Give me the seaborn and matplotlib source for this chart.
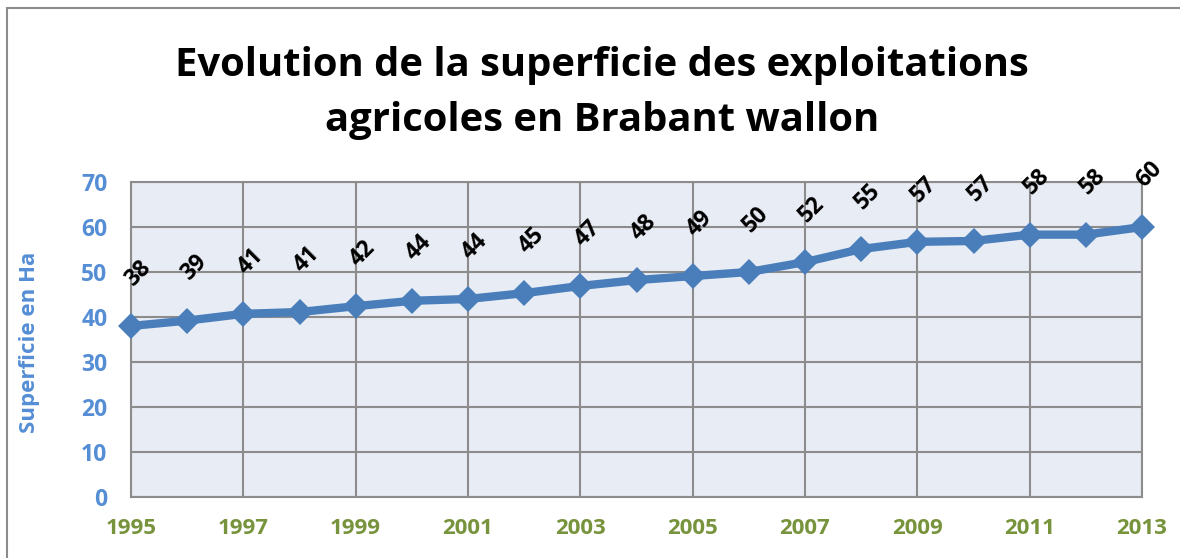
import pandas as pd
import seaborn as sns
import matplotlib.pyplot as plt
from matplotlib.patches import Rectangle

# Data
years = [1995, 1996, 1997, 1998, 1999, 2000, 2001, 2002, 2003, 2004,
         2005, 2006, 2007, 2008, 2009, 2010, 2011, 2012, 2013]
superficie = [38.0, 39.2, 40.7, 41.1, 42.4, 43.6, 44.0, 45.3, 46.9, 48.2,
              49.1, 50.0, 52.2, 55.1, 56.7, 56.9, 58.3, 58.3, 60.0]
labels = ["38", "39", "41", "41", "42", "44", "44", "45", "47", "48",
          "49", "50", "52", "55", "57", "57", "58", "58", "60"]
yticks = [0, 10, 20, 30, 40, 50, 60, 70]
xticks = [1995, 1997, 1999, 2001, 2003, 2005, 2007, 2009, 2011, 2013]

df = pd.DataFrame({"annee": years, "superficie": superficie})

sns.set_style("white")
plt.rcParams["font.family"] = ["Open Sans", "DejaVu Sans"]

line_color = "#4A7EBB"
blue_txt = "#558ED5"
green_txt = "#77933C"
grid_color = "#8C8C8C"

fig = plt.figure(figsize=(11.8, 5.58), dpi=100)
ax = fig.add_axes([131 / 1180, 1 - 497 / 558, (1142 - 131) / 1180, (497 - 182) / 558])
ax.set_facecolor("#E8ECF4")

sns.lineplot(data=df, x="annee", y="superficie", color=line_color,
             linewidth=6, marker="D", markersize=13, markeredgewidth=0,
             ax=ax, zorder=5, clip_on=False)

# data labels
for x, y, lab in zip(years, superficie, labels):
    ax.annotate(lab, (x, y), xytext=(5, 38), textcoords="offset points",
                rotation=45, ha="center", va="center", fontsize=16.5,
                fontweight="bold", color="black", zorder=6)

ax.set_xlim(1995, 2013)
ax.set_ylim(0, 70)
ax.set_xticks(xticks)
ax.set_yticks(yticks)
ax.grid(True, color=grid_color, linewidth=1.5)
ax.set_axisbelow(True)
for s in ax.spines.values():
    s.set_color(grid_color)
    s.set_linewidth(1.5)
ax.tick_params(length=0)
ax.tick_params(axis="x", pad=15)
ax.tick_params(axis="y", pad=17)
for t in ax.get_xticklabels():
    t.set_color(green_txt)
    t.set_fontweight("bold")
    t.set_fontsize(16)
for t in ax.get_yticklabels():
    t.set_color(blue_txt)
    t.set_fontweight("bold")
    t.set_fontsize(16.5)

ax.set_xlabel("")
ax.set_ylabel("")
fig.text(30 / 1180, 1 - 342 / 558, "Superficie en Ha", rotation=90,
         ha="center", va="center", color=blue_txt, fontsize=16, fontweight="bold")

fig.text(602 / 1180, 1 - 93 / 558,
         "Evolution de la superficie des exploitations\nagricoles en Brabant wallon",
         ha="center", va="center", fontsize=28.8, fontweight="bold",
         color="black", linespacing=1.55)

# chart border
fig.patches.append(Rectangle((7 / 1180, -0.05), 1.1, (550 / 558) + 0.05,
                             transform=fig.transFigure, fill=False,
                             edgecolor="#8C8C8C", linewidth=1.5))

plt.savefig("out.png", dpi=100)
